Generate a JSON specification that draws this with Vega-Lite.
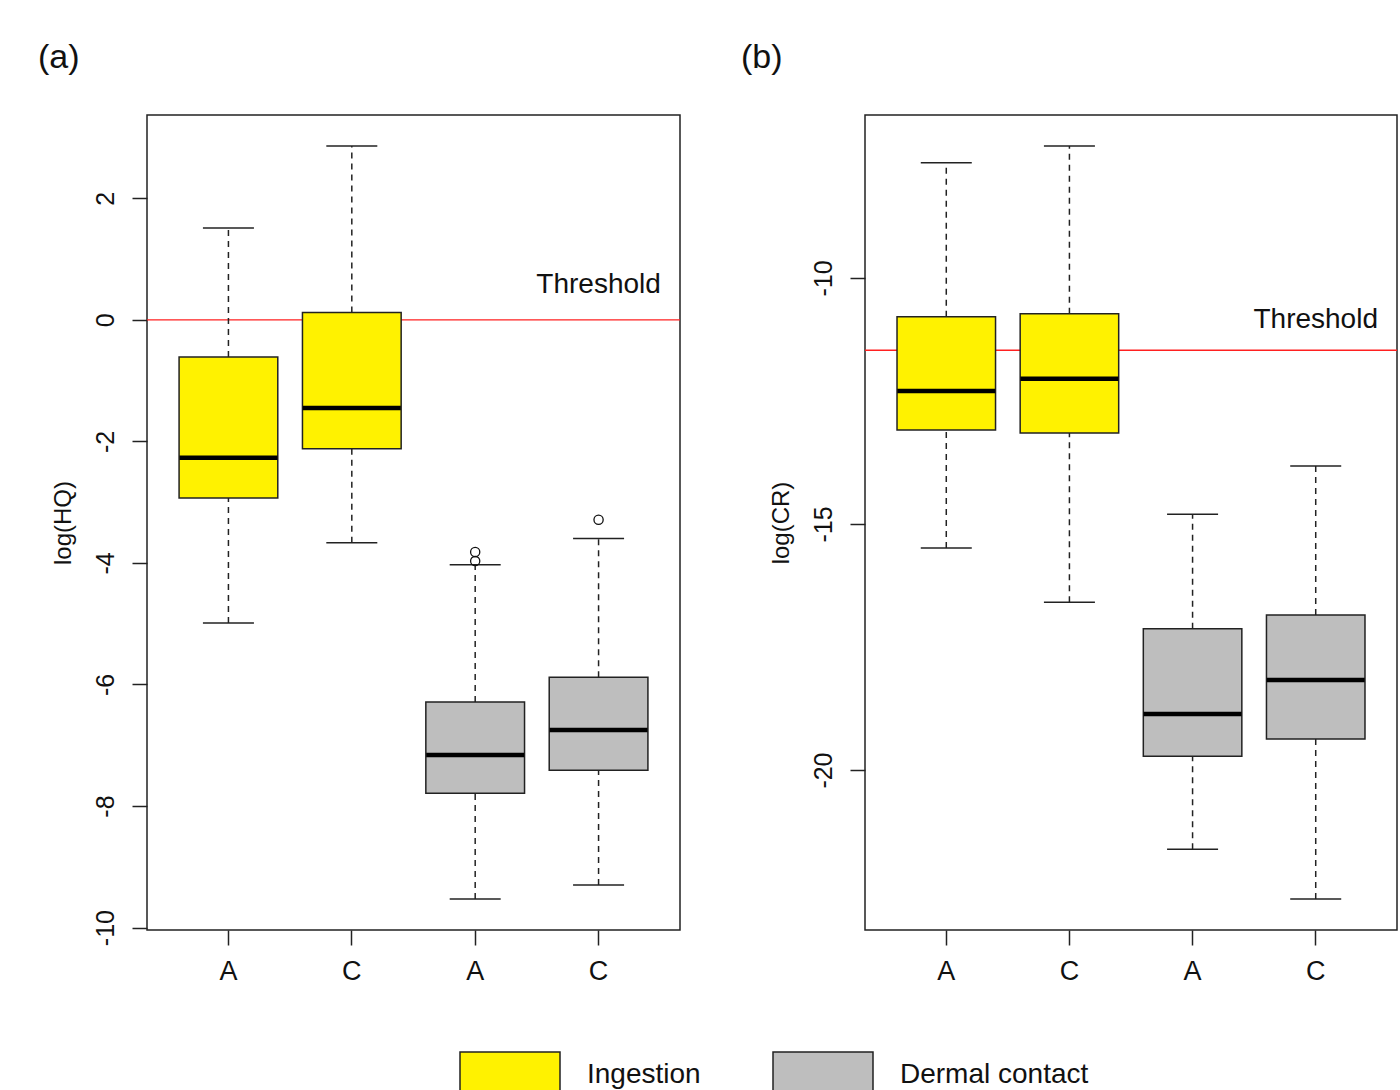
{
  "$schema": "https://vega.github.io/schema/vega-lite/v6.json",
  "padding": {"left": 37, "top": 40, "right": 0, "bottom": 0},
  "background": "white",
  "config": {
    "font": "Liberation Sans",
    "view": {"stroke": "#222", "strokeWidth": 1.5},
    "axis": {"domain": false, "grid": false, "ticks": true, "tickColor": "#222", "tickWidth": 1.5, "tickSize": 15, "labelColor": "#111", "titleColor": "#111", "labelFont": "Liberation Sans", "titleFont": "Liberation Sans", "titleFontWeight": "normal"}
  },
  "datasets": {
    "boxA": [
      {"key": "1A", "grp": "Ingestion", "lo": -4.99, "q1": -2.93, "med": -2.27, "q3": -0.61, "hi": 1.51},
      {"key": "2C", "grp": "Ingestion", "lo": -3.67, "q1": -2.12, "med": -1.45, "q3": 0.12, "hi": 2.86},
      {"key": "3A", "grp": "Dermal contact", "lo": -9.53, "q1": -7.79, "med": -7.16, "q3": -6.29, "hi": -4.03},
      {"key": "4C", "grp": "Dermal contact", "lo": -9.30, "q1": -7.41, "med": -6.75, "q3": -5.88, "hi": -3.60}
    ],
    "outA": [
      {"key": "3A", "val": -3.82},
      {"key": "3A", "val": -3.97},
      {"key": "4C", "val": -3.29}
    ],
    "thrA": [{"thr": 0, "ty": 0.444, "label": "Threshold"}],
    "boxB": [
      {"key": "1A", "grp": "Ingestion", "lo": -15.49, "q1": -13.09, "med": -12.30, "q3": -10.79, "hi": -7.66},
      {"key": "2C", "grp": "Ingestion", "lo": -16.59, "q1": -13.15, "med": -12.05, "q3": -10.73, "hi": -7.32},
      {"key": "3A", "grp": "Dermal contact", "lo": -21.61, "q1": -19.72, "med": -18.86, "q3": -17.13, "hi": -14.80},
      {"key": "4C", "grp": "Dermal contact", "lo": -22.62, "q1": -19.37, "med": -18.17, "q3": -16.85, "hi": -13.82}
    ],
    "thrB": [{"thr": -11.47, "ty": -11.02, "label": "Threshold"}]
  },
  "spacing": 58,
  "resolve": {"scale": {"fill": "shared"}, "legend": {"fill": "shared"}},
  "hconcat": [
    {
      "width": 533,
      "height": 815,
      "title": {"text": "(a)", "anchor": "start", "frame": "bounds", "dx": -13, "fontSize": 34, "fontWeight": "normal", "baseline": "alphabetic", "offset": 13, "color": "#111"},
      "layer": [
        {
          "data": {"name": "thrA"},
          "mark": {"type": "rule", "color": "#ff2020", "strokeWidth": 1.3},
          "encoding": {
            "y": {"field": "thr", "type": "quantitative", "title": "log(HQ)", "scale": {"domain": [-10.04, 3.37], "nice": false, "zero": false},
              "axis": {"values": [-10, -8, -6, -4, -2, 0, 2], "labelExpr": "datum.value + ''", "labelAngle": -90, "labelAlign": "center", "labelBaseline": "bottom", "labelFontSize": 25, "labelPadding": 14, "titleFontSize": 24, "titlePadding": 18}}
          }
        },
        {
          "data": {"name": "boxA"},
          "mark": {"type": "rule", "color": "#222", "strokeWidth": 1.5, "strokeDash": [6, 5]},
          "encoding": {
            "x": {"field": "key", "type": "nominal", "scale": {"type": "band", "paddingInner": 0, "paddingOuter": 0.16}, "axis": {"title": null, "labelExpr": "substring(datum.label, 1)", "labelAngle": 0, "labelFontSize": 27, "labelPadding": 13}},
            "y": {"field": "lo", "type": "quantitative", "title": "log(HQ)"},
            "y2": {"field": "q1"}
          }
        },
        {
          "data": {"name": "boxA"},
          "mark": {"type": "rule", "color": "#222", "strokeWidth": 1.5, "strokeDash": [6, 5]},
          "encoding": {
            "x": {"field": "key", "type": "nominal"},
            "y": {"field": "q3", "type": "quantitative", "title": "log(HQ)"},
            "y2": {"field": "hi"}
          }
        },
        {
          "data": {"name": "boxA"},
          "mark": {"type": "tick", "orient": "horizontal", "size": 51, "thickness": 1.5, "color": "#222", "opacity": 1},
          "encoding": {
            "x": {"field": "key", "type": "nominal"},
            "y": {"field": "lo", "type": "quantitative", "title": "log(HQ)"}
          }
        },
        {
          "data": {"name": "boxA"},
          "mark": {"type": "tick", "orient": "horizontal", "size": 51, "thickness": 1.5, "color": "#222", "opacity": 1},
          "encoding": {
            "x": {"field": "key", "type": "nominal"},
            "y": {"field": "hi", "type": "quantitative", "title": "log(HQ)"}
          }
        },
        {
          "data": {"name": "boxA"},
          "mark": {"type": "bar", "width": {"band": 0.8}, "stroke": "#222", "strokeWidth": 1.5, "opacity": 1},
          "encoding": {
            "x": {"field": "key", "type": "nominal"},
            "y": {"field": "q1", "type": "quantitative", "title": "log(HQ)"},
            "y2": {"field": "q3"},
            "fill": {"field": "grp", "type": "nominal", "scale": {"domain": ["Ingestion", "Dermal contact"], "range": ["#FFF200", "#BEBEBE"]},
              "legend": {"title": null, "orient": "none", "legendX": 312, "legendY": 909, "direction": "horizontal", "symbolType": "M-1,-0.46H1V0.46H-1Z", "symbolSize": 10000, "symbolStrokeColor": "#222", "symbolStrokeWidth": 1.5, "symbolOpacity": 1, "labelFontSize": 28, "labelOffset": 26, "labelLimit": 500, "columnPadding": 69, "labelColor": "#111", "padding": 0, "labelFont": "Liberation Sans"}}
          }
        },
        {
          "data": {"name": "boxA"},
          "mark": {"type": "tick", "orient": "horizontal", "size": 98, "thickness": 4.5, "color": "#000", "opacity": 1},
          "encoding": {
            "x": {"field": "key", "type": "nominal"},
            "y": {"field": "med", "type": "quantitative", "title": "log(HQ)"}
          }
        },
        {
          "data": {"name": "outA"},
          "mark": {"type": "point", "shape": "circle", "filled": false, "color": "#111", "size": 85, "strokeWidth": 1.3, "opacity": 1},
          "encoding": {
            "x": {"field": "key", "type": "nominal"},
            "y": {"field": "val", "type": "quantitative", "title": "log(HQ)"}
          }
        },
        {
          "data": {"name": "thrA"},
          "mark": {"type": "text", "fontSize": 28, "align": "center", "baseline": "alphabetic", "color": "#111"},
          "encoding": {
            "x": {"datum": "4C", "type": "nominal"},
            "y": {"field": "ty", "type": "quantitative", "title": "log(HQ)"},
            "text": {"field": "label"}
          }
        }
      ]
    },
    {
      "width": 532,
      "height": 815,
      "title": {"text": "(b)", "anchor": "start", "frame": "bounds", "dx": -28, "fontSize": 34, "fontWeight": "normal", "baseline": "alphabetic", "offset": 13, "color": "#111"},
      "layer": [
        {
          "data": {"name": "thrB"},
          "mark": {"type": "rule", "color": "#ff2020", "strokeWidth": 1.3},
          "encoding": {
            "y": {"field": "thr", "type": "quantitative", "title": "log(CR)", "scale": {"domain": [-23.25, -6.69], "nice": false, "zero": false},
              "axis": {"values": [-20, -15, -10], "labelExpr": "datum.value + ''", "labelAngle": -90, "labelAlign": "center", "labelBaseline": "bottom", "labelFontSize": 25, "labelPadding": 14, "titleFontSize": 24, "titlePadding": 18}}
          }
        },
        {
          "data": {"name": "boxB"},
          "mark": {"type": "rule", "color": "#222", "strokeWidth": 1.5, "strokeDash": [6, 5]},
          "encoding": {
            "x": {"field": "key", "type": "nominal", "scale": {"type": "band", "paddingInner": 0, "paddingOuter": 0.16}, "axis": {"title": null, "labelExpr": "substring(datum.label, 1)", "labelAngle": 0, "labelFontSize": 27, "labelPadding": 13}},
            "y": {"field": "lo", "type": "quantitative", "title": "log(CR)"},
            "y2": {"field": "q1"}
          }
        },
        {
          "data": {"name": "boxB"},
          "mark": {"type": "rule", "color": "#222", "strokeWidth": 1.5, "strokeDash": [6, 5]},
          "encoding": {
            "x": {"field": "key", "type": "nominal"},
            "y": {"field": "q3", "type": "quantitative", "title": "log(CR)"},
            "y2": {"field": "hi"}
          }
        },
        {
          "data": {"name": "boxB"},
          "mark": {"type": "tick", "orient": "horizontal", "size": 51, "thickness": 1.5, "color": "#222", "opacity": 1},
          "encoding": {
            "x": {"field": "key", "type": "nominal"},
            "y": {"field": "lo", "type": "quantitative", "title": "log(CR)"}
          }
        },
        {
          "data": {"name": "boxB"},
          "mark": {"type": "tick", "orient": "horizontal", "size": 51, "thickness": 1.5, "color": "#222", "opacity": 1},
          "encoding": {
            "x": {"field": "key", "type": "nominal"},
            "y": {"field": "hi", "type": "quantitative", "title": "log(CR)"}
          }
        },
        {
          "data": {"name": "boxB"},
          "mark": {"type": "bar", "width": {"band": 0.8}, "stroke": "#222", "strokeWidth": 1.5, "opacity": 1},
          "encoding": {
            "x": {"field": "key", "type": "nominal"},
            "y": {"field": "q1", "type": "quantitative", "title": "log(CR)"},
            "y2": {"field": "q3"},
            "fill": {"field": "grp", "type": "nominal", "scale": {"domain": ["Ingestion", "Dermal contact"], "range": ["#FFF200", "#BEBEBE"]},
              "legend": {"title": null, "orient": "none", "legendX": 312, "legendY": 909, "direction": "horizontal", "symbolType": "M-1,-0.46H1V0.46H-1Z", "symbolSize": 10000, "symbolStrokeColor": "#222", "symbolStrokeWidth": 1.5, "symbolOpacity": 1, "labelFontSize": 28, "labelOffset": 26, "labelLimit": 500, "columnPadding": 69, "labelColor": "#111", "padding": 0, "labelFont": "Liberation Sans"}}
          }
        },
        {
          "data": {"name": "boxB"},
          "mark": {"type": "tick", "orient": "horizontal", "size": 98, "thickness": 4.5, "color": "#000", "opacity": 1},
          "encoding": {
            "x": {"field": "key", "type": "nominal"},
            "y": {"field": "med", "type": "quantitative", "title": "log(CR)"}
          }
        },
        {
          "data": {"name": "thrB"},
          "mark": {"type": "text", "fontSize": 28, "align": "center", "baseline": "alphabetic", "color": "#111"},
          "encoding": {
            "x": {"datum": "4C", "type": "nominal"},
            "y": {"field": "ty", "type": "quantitative", "title": "log(CR)"},
            "text": {"field": "label"}
          }
        }
      ]
    }
  ]
}
